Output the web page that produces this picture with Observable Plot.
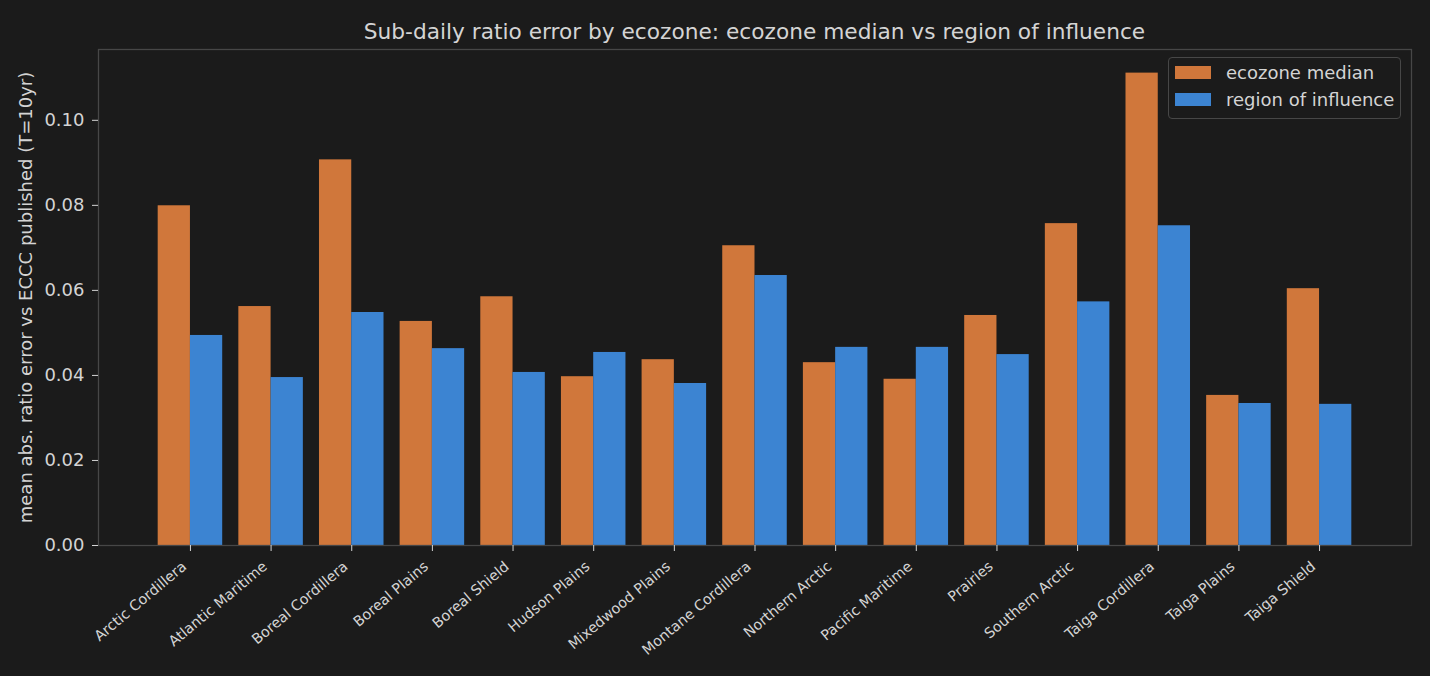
<!DOCTYPE html>
<html>
<head>
<meta charset="utf-8">
<script src="https://cdn.jsdelivr.net/npm/d3@7"></script>
<script src="https://cdn.jsdelivr.net/npm/@observablehq/plot@0.6"></script>
<style>
  html, body { margin: 0; padding: 0; background: #1b1b1b; }
  #chart { position: relative; width: 1430px; height: 676px; font-family: "DejaVu Sans", sans-serif; color: #d4d4d4; }
  #title { position: absolute; left: 98px; width: 1313px; top: 19px; text-align: center; font-size: 21.7px; line-height: normal; white-space: nowrap; }
  #legend { position: absolute; left: 1168px; top: 57px; width: 225px; height: 56px; padding: 1px 0 3px 6px; box-sizing: content-box;
            border: 1px solid #474747; border-radius: 4px; background: #1b1b1b; }
</style>
</head>
<body>
<div id="chart">
  <div id="title">Sub-daily ratio error by ecozone: ecozone median vs region of influence</div>
  <div id="legend"></div>
</div>
<script>
// Ecozones along the x axis
const categories = [
  "Arctic Cordillera", "Atlantic Maritime", "Boreal Cordillera", "Boreal Plains", "Boreal Shield",
  "Hudson Plains", "Mixedwood Plains", "Montane Cordillera", "Northern Arctic", "Pacific Maritime",
  "Prairies", "Southern Arctic", "Taiga Cordillera", "Taiga Plains", "Taiga Shield"
];

// Mean absolute ratio error vs ECCC published (T=10yr)
const ecozoneMedian = [0.0799, 0.0562, 0.0907, 0.0527, 0.0585, 0.0397, 0.0437, 0.0705, 0.0430, 0.0391, 0.0541, 0.0757, 0.1111, 0.0353, 0.0604];
const regionOfInfluence = [0.0494, 0.0395, 0.0548, 0.0463, 0.0407, 0.0454, 0.0381, 0.0635, 0.0466, 0.0466, 0.0449, 0.0573, 0.0752, 0.0334, 0.0332];

const seriesNames = ["ecozone median", "region of influence"];
const seriesColors = ["#d0773b", "#3c84d2"];
const yTicks = [0, 0.02, 0.04, 0.06, 0.08, 0.10];

// Grouped bars: each ecozone sits at an integer position, the two series side by side
const barWidth = 0.4;
const seriesValues = [ecozoneMedian, regionOfInfluence];
const rows = categories.flatMap((name, i) =>
  seriesNames.map((series, s) => ({
    name, series, value: seriesValues[s][i],
    x1: i + (s - 1) * barWidth,
    x2: i + s * barWidth
  }))
);

const n = categories.length;
const xPad = 0.05 * (n - 1 + 2 * barWidth);
const yMax = d3.max(rows, d => d.value) * 1.05;
const xTicks = categories.map((_, i) => i);

const chart = Plot.plot({
  width: 1430,
  height: 676,
  marginLeft: 98,
  marginRight: 19,
  marginTop: 49,
  marginBottom: 131,
  style: { background: "#1b1b1b", color: "#d4d4d4", fontFamily: "DejaVu Sans, sans-serif" },
  x: { domain: [-barWidth - xPad, n - 1 + barWidth + xPad] },
  y: { domain: [0, yMax] },
  color: { domain: seriesNames, range: seriesColors },
  marks: [
    Plot.rectY(rows, { x1: "x1", x2: "x2", y: "value", fill: "series" }),
    Plot.frame({ stroke: "#474747", strokeWidth: 1.3 }),
    Plot.axisY({
      ticks: yTicks,
      tickFormat: d3.format(".2f"),
      tickSize: 6,
      tickPadding: 8,
      fontSize: 18,
      label: "mean abs. ratio error vs ECCC published (T=10yr)",
      labelAnchor: "center",
      labelOffset: 79,
      labelArrow: "none"
    }),
    // tick marks at each ecozone centre
    Plot.axisX({ ticks: xTicks, tickFormat: () => "", tickSize: 6, label: null }),
    // rotated ecozone names, right-aligned under their ticks
    Plot.axisX({
      ticks: xTicks,
      tickFormat: i => categories[i],
      tickRotate: -40,
      tickSize: 0,
      tickPadding: 19,
      dx: -6,
      fontSize: 14.4,
      label: null
    })
  ]
});

document.getElementById("chart").prepend(chart);

// Legend box in the upper-right corner of the plot area
const legend = Plot.legend({
  color: { domain: seriesNames, range: seriesColors },
  columns: 1,
  swatchWidth: 36,
  swatchHeight: 13
});
legend.style.margin = "0";
legend.style.minHeight = "0";
legend.style.fontSize = "18px";
legend.style.fontFamily = "DejaVu Sans, sans-serif";
legend.style.color = "#d4d4d4";
legend.querySelectorAll("svg").forEach(svg => {
  svg.style.marginRight = "15px";
  const row = svg.parentElement;
  row.style.display = "flex";
  row.style.alignItems = "center";
  row.style.height = "27px";
  row.style.padding = "0";
  row.style.margin = "0";
});
document.getElementById("legend").append(legend);
</script>
</body>
</html>
